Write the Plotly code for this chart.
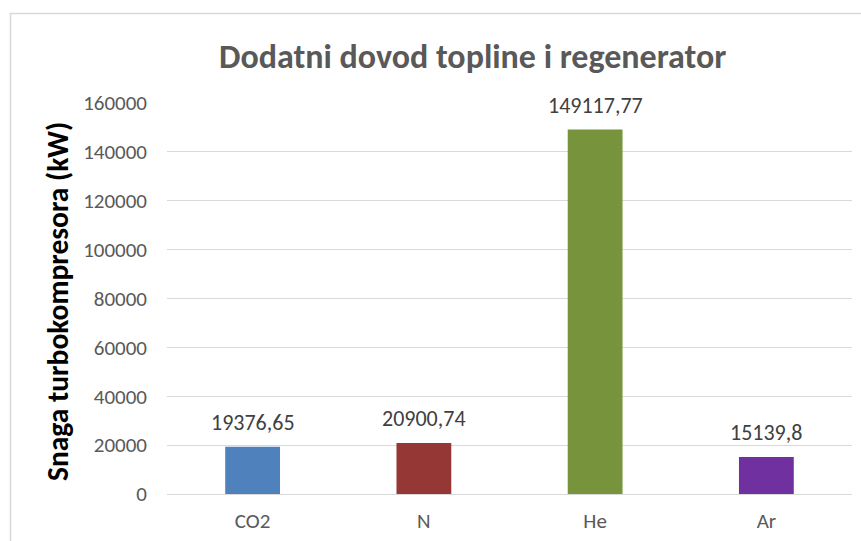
import plotly.graph_objects as go

# Turbocompressor power by working gas
gases = ["CO2", "N", "He", "Ar"]
power_kw = [19376.65, 20900.74, 149117.77, 15139.8]
bar_colors = ["#4F81BD", "#953735", "#77933C", "#7030A0"]
y_ticks = [0, 20000, 40000, 60000, 80000, 100000, 120000, 140000, 160000]

W, H = 861, 541
ML, MR, MT, MB = 167, 9, 103, 47
PW = W - ML - MR
PH = H - MT - MB

FONT = "Carlito, Lato, sans-serif"


def px_to_paper_x(px):
    return (px - ML) / PW


def px_to_paper_y(py):
    return (H - MB - py) / PH


def fmt(v):
    s = f"{v:.2f}".rstrip("0").rstrip(".")
    return s.replace(".", ",")


fig = go.Figure(
    go.Bar(
        x=gases,
        y=power_kw,
        marker=dict(color=bar_colors, line=dict(width=0)),
        width=0.32,
        hoverinfo="x+y",
    )
)

# value labels above each bar
for g, v in zip(gases, power_kw):
    fig.add_annotation(
        x=g, y=v, text=fmt(v), showarrow=False, yanchor="bottom", yshift=9,
        font=dict(family=FONT, size=22, color="#404040"),
    )

# chart title
fig.add_annotation(
    xref="paper", yref="paper", x=px_to_paper_x(472), y=px_to_paper_y(57),
    text="<b>Dodatni dovod topline i regenerator</b>", showarrow=False,
    xanchor="center", yanchor="middle",
    font=dict(family=FONT, size=34, color="#595959"),
)

# y-axis title
fig.add_annotation(
    xref="paper", yref="paper", x=px_to_paper_x(58), y=px_to_paper_y(301),
    text="<b>Snaga turbokompresora (kW)</b>", showarrow=False, textangle=-90,
    xanchor="center", yanchor="middle",
    font=dict(family=FONT, size=29.5, color="#000000"),
)

# outer chart frame
fig.add_shape(
    type="rect", xref="paper", yref="paper",
    x0=px_to_paper_x(10.5), x1=px_to_paper_x(875),
    y0=px_to_paper_y(560), y1=px_to_paper_y(13.5),
    line=dict(color="#D9D9D9", width=1.5), fillcolor="rgba(0,0,0,0)", layer="below",
)

fig.update_layout(
    width=W, height=H,
    margin=dict(l=ML, r=MR, t=MT, b=MB, autoexpand=False),
    paper_bgcolor="white", plot_bgcolor="white",
    showlegend=False,
    xaxis=dict(
        showgrid=False, showline=False, zeroline=False, ticks="",
        ticklabelstandoff=12,
        tickfont=dict(family=FONT, size=21, color="#595959"),
    ),
    yaxis=dict(
        range=[0, 160000], tickvals=y_ticks,
        ticktext=[str(t) for t in y_ticks],
        showgrid=True, gridcolor="#D9D9D9", gridwidth=1,
        zeroline=True, zerolinecolor="#D9D9D9", zerolinewidth=1,
        showline=False, ticks="", ticklabelstandoff=19,
        tickfont=dict(family=FONT, size=21, color="#595959"),
    ),
)

fig.write_html("out.html")
